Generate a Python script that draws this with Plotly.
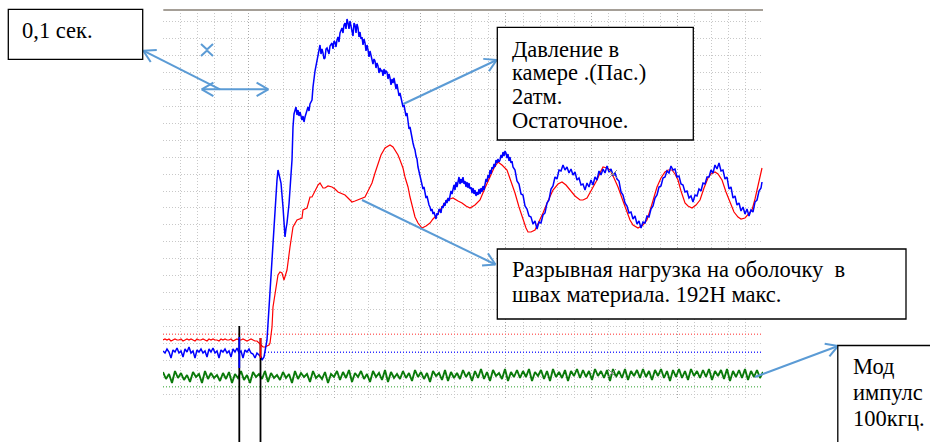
import math
import plotly.graph_objects as go

# ---------------- data (x = sample index, y = level; arbitrary scope units) ----------
blue_base_y = [48,46,50,47,41, 49,47,51,46,48, 42,50,47,52,46, 48,41,49,47,50,
               46,48,42,50,47, 51,46,48,41,49, 47,50,46,48,42, 50,47,51,46,48,
               41,49,47,50,46, 45,41,46,44,42]
blue_base_x = list(range(0, 100, 2))

blue_signal = [
 (99,39),(101,42),(104,59),(107,109),(110,159),(112,190),(114,219),(115,229),(116,224),
 (118,216),(120,192),(122,162),(123,170),(124,176),(126,195),(127,209),(129,239),
 (130,272),(131,285),(133,292),(134,284),(135,289),(136,283),(137,287),(139,279),(140,283),
 (141,277),(142,282),(143,286),(145,292),(146,288),(147,295),(149,299),(150,312),(152,328),
 (154,339),(155,344),(156,352),(157,354),(158,345),(159,350),(160,346),(161,340),(162,341),
 (163,350),(164,351),(166,345),(167,353),(169,356),(170,350),(171,358),(172,357),(173,352),
 (174,359),(175,362),(176,357),(177,366),(179,371),(180,366),(181,374),(182,376),(183,370),
 (184,380),(185,376),(186,370),(187,378),(188,372),(189,369),(190,363),(191,376),(192,374),
 (193,366),(194,375),(195,371),(196,362),(197,367),(198,360),(199,362),(200,354),(201,360),
 (202,356),(203,348),(204,354),(205,349),(206,342),(207,348),(208,344),(209,342),(210,335),
 (211,340),(212,338),(213,331),(214,336),(215,333),(216,326),(217,331),(218,328),(219,329),
 (220,323),(221,330),(222,325),(223,328),(224,327),(225,320),(226,325),(227,321),(228,314),
 (229,320),(230,316),(231,321),(232,317),(233,310),(234,315),(235,309),(236,303),(237,306),
 (238,300),(239,297),(240,292),(241,294),(242,289),(243,283),(244,286),(245,276),(246,270),
 (247,272),(248,265),(249,259),(250,256),(251,252),(252,249),(253,243),(254,240),(255,232),
 (256,228),(257,224),(258,220),(259,216),(260,210),(261,212),(262,206),(263,201),(264,203),
 (265,196),(266,194),(267,192),(268,188),(269,190),(270,185),(271,187),(272,184),(273,180),
 (274,186),(275,184),(276,190),(277,189),(278,186),(279,193),(280,191),(281,196),(282,193),
 (283,199),(284,196),(285,201),(286,198),(287,202),(288,208),(289,205),(290,211),(291,214),
 (292,209),(293,217),(294,212),(295,219),(296,222),(297,215),(298,220),(299,216),(300,222),
 (301,215),(302,218),(303,212),(304,217),(305,211),(306,216),(307,210),(308,212),(309,206),
 (310,211),(311,205),(312,209),(313,203),(314,207),(315,204),(316,210),(317,205),(318,211),
 (319,207),(320,213),(321,209),(322,216),(323,220),(324,217),(325,224),(326,221),(327,229),
 (328,225),(329,232),(330,230),(331,235),(332,232),(333,239),(334,236),(335,240),(336,237),
 (337,239),(338,244),(339,241),(340,247),(341,243),(342,248),(343,246),(344,241),(345,245),
 (346,238),(347,242),(348,236),(349,238),(350,232),
 (352,229),(354,218),(356,215),(358,205),(360,204),(362,193),(364,190),(366,183),(368,182),
 (370,175),(372,178),(374,170),(376,177),(378,176),(380,184),(382,186),(384,196),(386,199),
 (388,210),(390,213),(392,222),(394,220),(396,229),(398,228),(400,234),(402,229),(404,232),
 (406,226),(408,230),(410,224),(412,227),(414,219),(416,221),(418,214),(420,215),(422,209),
 (424,216),(426,212),(428,219),(430,214),(432,222),(434,219),(436,228),(438,224),(440,230),
 (442,226),(444,233),(446,227),(448,230),(450,224),(452,226),(454,220),(456,218),(458,207),
 (460,204),(462,196),(464,193),(466,186),(468,187),(470,180),(472,183),(474,175),(476,178),
 (478,171),(480,177),(482,176),(484,183),(486,182),(488,190),(490,193),(492,201),(494,204),
 (496,212),(498,213),(500,221),(502,222),(504,228),(506,226),(508,233),(510,229),(512,230),
 (514,222),(516,223),(518,215),(520,214),(522,207),(524,208),(526,201),(528,203),(530,197),
 (532,204),(534,203),(536,210),(538,208),(540,216),(542,215),(544,222),(546,222),(548,229),
 (550,226),(552,234),(554,230),(556,236),(558,228),(560,229),(562,220),(564,222),(566,210),
 (568,212),(570,201),(572,203),(574,194),(576,196),(578,188),(580,192),(582,185),(584,190),
 (586,183),(588,189),(590,187),(592,197),(594,199),(596,208),(598,211),(599,217)]

red_base_y = [59,60,59,60,58,59,60,59, 59,60,58,59,60,59,60,59,
              58,60,59,59,60,59,58,60, 59,60,59,59,58,60,59,60,
              59,59,60,58,59,60,59,59, 60,59,58,59,60,59,58,58]
red_base_x = list(range(0, 96, 2))

red_signal = [
 (96,56),(98,54),(100,52),(102,52),(104,53),(106,54),(107,56),(109,72),(110,92),(112,106),
 (115,124),(117,127),(119,126),(121,119),(124,129),(127,152),(130,172),(134,179),(137,180),
 (139,181),(140,189),(142,190),(144,191),(147,202),(149,202),(152,208),(154,212),(155,214),
 (157,216),(160,211),(162,211),(165,213),(169,212),(172,210),(175,207),(178,206),(182,204),
 (185,201),(189,197),(192,198),(195,199),(198,200),(202,202),(205,208),(209,216),(212,226),
 (215,236),(218,244),(222,251),(225,253),(227,254),(230,252),(232,249),(235,244),(237,239),
 (240,231),(242,222),(245,212),(247,202),(250,190),(252,182),(255,176),(259,171),(263,173),
 (267,176),(270,180),(274,184),(279,192),(284,199),(287,200),(290,201),(295,198),(299,196),
 (303,193),(307,191),(312,194),(317,199),(322,211),(327,222),(331,231),(335,237),(339,234),
 (344,229),(348,218),(352,206),(356,192),(360,179),(363,171),(365,167),(368,167),(372,169),
 (376,177),(380,186),(385,198),(390,209),(395,215),(399,217),(403,214),(407,209),(412,203),
 (417,199),(420,199),(424,201),(429,210),(434,219),(437,226),(440,232),(444,231),(447,229),
 (451,221),(455,212),(460,198),(464,186),(467,179),(470,174),(475,171),(480,174),(484,179),
 (489,195),(494,212),(498,221),(502,227),(505,229),(509,229),(512,225),(515,219),(518,208),
 (522,196),(525,193),(529,191),(533,194),(537,199),(541,211),(545,221),(548,225),(552,227),
 (555,225),(559,219),(563,207),(567,196),(571,187),(575,182),(578,180),(582,181),(585,184),
 (589,189),(592,200),(595,213),(599,231)]

green_y = [27,20,25,16,28,21,26,19,24,17,27,22,25,16,28,20,26,21,24,18,
           26,20,27,16,25,21,28,19,24,16,27,22,25,20,28,17,26,21,24,19,
           27,21,25,16,28,20,26,22,25,17,28,21,24,20,27,16,25,22,28,19,
           27,21,29,17,26,22,28,20,25,17,28,22,26,19,29,17,27,21,25,20,
           28,21,26,18,29,22,27,20,26,17,28,23,26,19,29,18,27,21,26,20,
           29,22,27,18,28,21,30,20,27,18,29,23,26,20,30,18,27,22,29,21,
           28,22,30,18,27,23,29,20,28,18,30,22,27,21,29,18,28,23,30,21,
           29,22,28,19,30,23,28,21,29,18,30,22,28,21,30,19,28,23,29,21,
           30,22,28,19,29,23,30,21,28,18,29,22,30,21,28,19,30,23,28,21,
           29,22,30,19,28,23,29,20,30,18,28,22,29,21,30,19,28,22,29,21,
           27]
green_x = list(range(0, 601, 3))

ref_levels = {"red": 64.7, "blue": 46.7, "green": 12.3}
blue_ref_start = 102
cursor_positions = [76.3, 97.5]

X_RANGE = [0, 600]
Y_RANGE = [0, 389]

# ---------------- figure ----------------
fig = go.Figure()

fig.add_trace(go.Scatter(x=[0, 600], y=[ref_levels["red"]] * 2, mode="lines",
                         line=dict(color="#ff7070", width=1.5, dash="1px,2px"), hoverinfo="skip"))
fig.add_trace(go.Scatter(x=[blue_ref_start, 600], y=[ref_levels["blue"]] * 2, mode="lines",
                         line=dict(color="#3030ff", width=1.5, dash="1px,2px"), hoverinfo="skip"))
fig.add_trace(go.Scatter(x=[0, 600], y=[ref_levels["green"]] * 2, mode="lines",
                         line=dict(color="#70c070", width=1.5, dash="1px,2px"), hoverinfo="skip"))

fig.add_trace(go.Scatter(x=green_x, y=green_y, mode="lines",
                         line=dict(color="#0a7a0a", width=1.9), hoverinfo="skip"))

rx = red_base_x + [p[0] for p in red_signal]
ry = red_base_y + [p[1] for p in red_signal]
fig.add_trace(go.Scatter(x=rx, y=ry, mode="lines", line=dict(color="#ff0000", width=1.2),
                         hoverinfo="skip"))

bx = blue_base_x + [p[0] for p in blue_signal]
by = blue_base_y + [p[1] for p in blue_signal]
fig.add_trace(go.Scatter(x=bx, y=by, mode="lines", line=dict(color="#0000ff", width=1.5),
                         hoverinfo="skip"))

# ---------------- decorations (pixel helpers) ----------------
L, R, T, B = 163, 167, 10, 43
W, H = 930, 442
PW, PH = W - L - R, H - T - B


def P(px, py):
    return (px - L) / PW, (H - B - py) / PH


shapes = []
annotations = []
ARROW = "#5b9bd5"


def seg(px0, py0, px1, py1, color, width, layer="above"):
    x0, y0 = P(px0, py0)
    x1, y1 = P(px1, py1)
    shapes.append(dict(type="line", xref="paper", yref="paper", x0=x0, y0=y0, x1=x1, y1=y1,
                       line=dict(color=color, width=width), layer=layer))


def head(tx, ty, sx, sy, length=13.5, ang=30):
    dx, dy = sx - tx, sy - ty
    n = math.hypot(dx, dy)
    dx, dy = dx / n, dy / n
    for s in (1, -1):
        a = math.radians(ang * s)
        hx = dx * math.cos(a) - dy * math.sin(a)
        hy = dx * math.sin(a) + dy * math.cos(a)
        seg(tx, ty, tx + hx * length, ty + hy * length, ARROW, 2)


def arrow(sx, sy, tx, ty, both=False):
    seg(sx, sy, tx, ty, ARROW, 2)
    head(tx, ty, sx, sy)
    if both:
        head(sx, sy, tx, ty)


def box(px0, py0, px1, py1):
    x0, y0 = P(px0, py0)
    x1, y1 = P(px1, py1)
    shapes.append(dict(type="rect", xref="paper", yref="paper", x0=x0, y0=y0, x1=x1, y1=y1,
                       fillcolor="white", line=dict(color="black", width=1.3), layer="above"))


FS = 22.5
SERIF = "'Times New Roman', 'Liberation Serif', 'DejaVu Serif', serif"


def text(px, baseline, s, fs=FS):
    x, y = P(px - 2, baseline - 0.34 * fs)
    annotations.append(dict(x=x, y=y, xref="paper", yref="paper", text=s, showarrow=False,
                            xanchor="left", yanchor="middle",
                            font=dict(family=SERIF, size=fs, color="black")))


# top border of the scope window
seg(163.3, 10, 763, 10, "#a59f97", 2.2)

# cursor lines (from data positions)
for cx, ctop, col, c0, c1 in [(cursor_positions[0], 326, "#0000ff", 337, 368),
                               (cursor_positions[1], 338, "#ff0000", 338, 358)]:
    xp = cx / (X_RANGE[1] - X_RANGE[0])
    pxc = L + xp * PW
    seg(pxc, ctop, pxc, 442, "black", 1.8)
    seg(pxc, c0, pxc, c1, col, 1.8)

# cursor cross marks
for (mx, my) in [(613, 174), (612, 373)]:
    seg(mx - 4, my - 4, mx + 4, my + 4, "#888888", 1)
    seg(mx - 4, my + 4, mx + 4, my - 4, "#888888", 1)

# small "x" mark
seg(201, 44, 207, 49.5, ARROW, 2)
seg(207, 49.5, 213, 44, ARROW, 2)
seg(201, 56, 207, 50.5, ARROW, 2)
seg(207, 50.5, 213, 56, ARROW, 2)

# arrows
arrow(220, 89.3, 143.3, 50.7)
arrow(201.7, 89.3, 268.3, 89.3, both=True)
arrow(403.3, 104, 496.7, 60)
arrow(362, 200, 495.5, 264.5)
arrow(755, 377, 838, 346)

# boxes
box(8.3, 9.3, 142.7, 59.3)
box(497.3, 27.3, 693.3, 140)
box(497.3, 249, 906, 319)
box(837.8, 345.5, 945, 460)

text(21.7, 38.3, "0,1 сек.")
for s, bl in zip(["Давление в", "камере .(Пас.)", "2атм.", "Остаточное."],
                 [56.7, 80.3, 104, 128.3]):
    text(511.7, bl, s)
for s, bl in zip(["Разрывная нагрузка на оболочку \u00a0в", "швах материала. 192Н макс."],
                 [277.3, 301.7]):
    text(511.7, bl, s)
for s, bl in zip(["Мод", "импулс", "100кгц."], [374, 400, 426]):
    text(853.3, bl, s)

axis_common = dict(showticklabels=False, ticks="", zeroline=False, showline=False,
                   fixedrange=True)
fig.update_layout(
    width=W, height=H, autosize=False,
    margin=dict(l=L, r=R, t=T, b=B, pad=0),
    paper_bgcolor="white", plot_bgcolor="white",
    showlegend=False,
    font=dict(family=SERIF),
    shapes=shapes, annotations=annotations,
    xaxis=dict(range=X_RANGE, tick0=0, dtick=600 / 7, showgrid=True, gridcolor="#a8a8a8",
               griddash="1px,2px", gridwidth=1,
               minor=dict(dtick=600 / 35, showgrid=True, gridcolor="#c8c8c8",
                          griddash="1px,2px", gridwidth=1),
               **axis_common),
    yaxis=dict(range=Y_RANGE, tick0=4.8, dtick=16.93, showgrid=True, gridcolor="#c8c8c8",
               griddash="1px,2px", gridwidth=1, **axis_common),
)

fig.write_html("out.html")
